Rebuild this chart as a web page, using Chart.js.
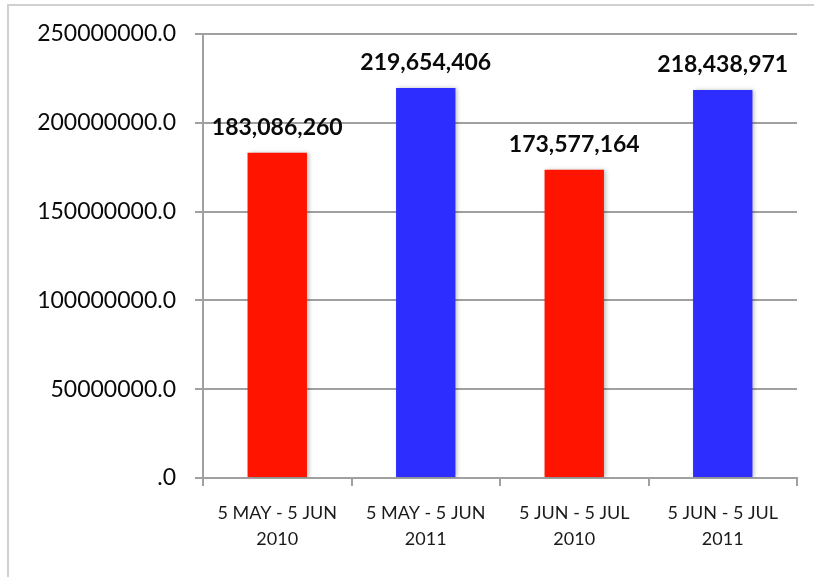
<!DOCTYPE html>
<html>
<head>
<meta charset="utf-8">
<script src="https://cdn.jsdelivr.net/npm/chart.js@4"></script>
<style>
  html, body { margin: 0; padding: 0; background: #fff; }
  #wrap { position: relative; width: 814px; height: 577px; overflow: hidden; }
  #frame {
    position: absolute; left: 7px; top: 4px; width: 830px; height: 600px;
    border-left: 2px solid #d0d0d0; border-top: 2px solid #d0d0d0;
  }
  #chart { position: absolute; left: 0; top: 0; }
</style>
</head>
<body>
<div id="wrap">
  <div id="frame"></div>
  <canvas id="chart" width="814" height="577"></canvas>
</div>
<script>
// периоды
const periods = [
  ["5 MAY - 5 JUN", "2010"],
  ["5 MAY - 5 JUN", "2011"],
  ["5 JUN - 5 JUL", "2010"],
  ["5 JUN - 5 JUL", "2011"]
];

// значения
const totals = [183086260, 219654406, 173577164, 218438971];

// цвета столбцов
const barColors = ["#ff1400", "#2d2dff", "#ff1400", "#2d2dff"];

// шкала Y
const yMax = 250000000;
const yStep = 50000000;


// подписи над столбцами
const valueLabels = {
  id: "valueLabels",
  afterDatasetsDraw(chart) {
    const ctx = chart.ctx;
    const meta = chart.getDatasetMeta(0);
    ctx.save();
    ctx.font = "bold 23px Lato";
    ctx.fillStyle = "#0a0a0a";
    ctx.textAlign = "center";
    ctx.textBaseline = "bottom";
    meta.data.forEach((bar, i) => {
      ctx.fillText(totals[i].toLocaleString("en-US"), bar.x, bar.y - 14);
    });
    ctx.restore();
  }
};

// лёгкая тень у столбцов
const barShadow = {
  id: "barShadow",
  beforeDatasetDraw(chart) {
    const ctx = chart.ctx;
    ctx.save();
    ctx.shadowColor = "rgba(0,0,0,0.25)";
    ctx.shadowBlur = 4;
    ctx.shadowOffsetX = 2;
    ctx.shadowOffsetY = 0;
  },
  afterDatasetDraw(chart) {
    chart.ctx.restore();
  }
};


const ctx = document.getElementById("chart");

const chart = new Chart(ctx, {
  type: "bar",
  data: {
    labels: periods,
    datasets: [{
      data: totals,
      backgroundColor: barColors,
      borderWidth: 0,
      barPercentage: 0.4,
      categoryPercentage: 1
    }]
  },
  options: {
    responsive: false,
    animation: false,
    layout: {
      padding: { top: 34, right: 17, bottom: 0, left: 0 }
    },
    plugins: {
      legend: { display: false },
      tooltip: { enabled: false }
    },
    scales: {
      x: {
        grid: {
          drawOnChartArea: false,
          drawTicks: true,
          tickLength: 8,
          color: "#a0a0a0",
          lineWidth: 2
        },
        border: { color: "#a0a0a0", width: 2 },
        ticks: {
          color: "#1a1a1a",
          font: { family: "Lato", size: 18, lineHeight: 1.45 },
          padding: 14,
          maxRotation: 0
        },
        afterFit(scale) { scale.height = 99; }
      },
      y: {
        min: 0,
        max: yMax,
        grid: {
          color: "#a0a0a0",
          lineWidth: 2,
          tickLength: 8
        },
        border: { color: "#a0a0a0", width: 2 },
        ticks: {
          stepSize: yStep,
          color: "#0a0a0a",
          font: { family: "Lato", size: 23 },
          padding: 19,
          callback: (v) => (v === 0 ? "" : v) + ".0"
        },
        afterFit(scale) { scale.width = 203; }
      }
    }
  },
  plugins: [barShadow, valueLabels]
});
</script>
</body>
</html>
